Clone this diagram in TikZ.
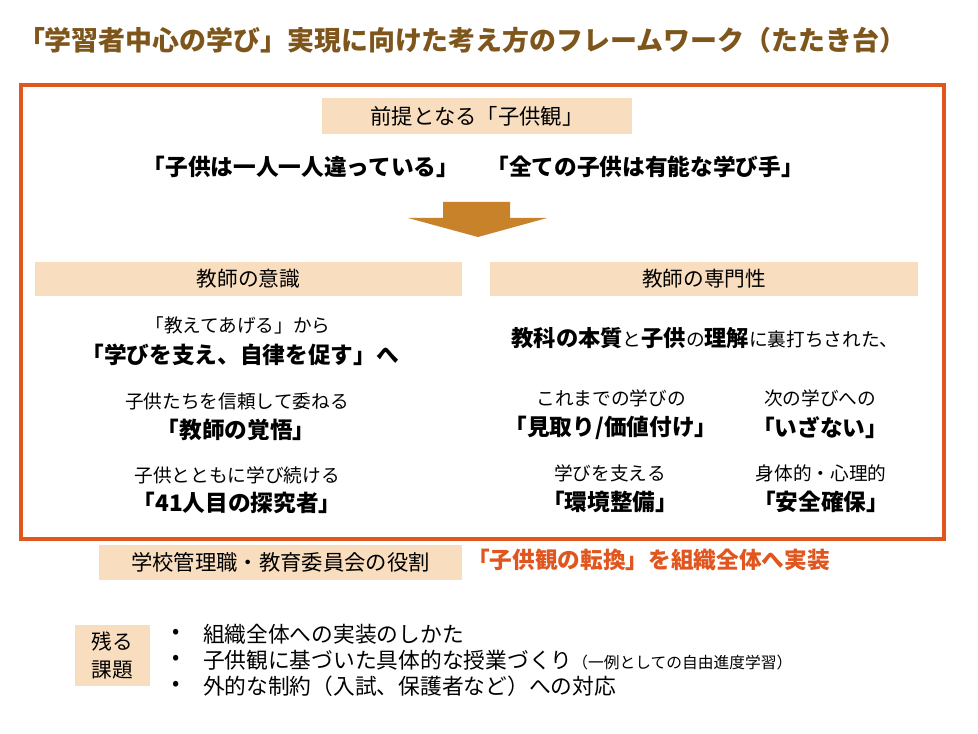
\documentclass[tikz,border=0pt]{standalone}
\usepackage{fontspec}
\setmainfont{Noto Sans CJK JP}
\definecolor{titlebrown}{HTML}{7E561C}
\definecolor{frameorange}{HTML}{E0561E}
\definecolor{peach}{HTML}{F9DDBF}
\definecolor{arrowgold}{HTML}{C8832A}
\begin{document}
\begin{tikzpicture}[x=0.75pt,y=-0.75pt,
  every node/.style={inner sep=0pt, outer sep=0pt},
  peachbox/.style={fill=peach, draw=none, font=\fontsize{15.5}{18}\selectfont},
  boldtxt/.style={font=\bfseries\fontsize{17}{20}\selectfont},
  smalltxt/.style={font=\fontsize{14}{16}\selectfont},
  bullettxt/.style={font=\fontsize{16.3}{19}\selectfont, anchor=west},
  bulletdot/.style={font=\fontsize{16}{19}\selectfont}]
\useasboundingbox (0,0) rectangle (978,734);
\fill[white] (0,0) rectangle (978,734);
% title
\node[anchor=west, text=titlebrown, font=\bfseries\fontsize{20.2}{24}\selectfont] (title) at (18,40)
  {「学習者中心の学び」実現に向けた考え方のフレームワーク（たたき台）};
% frame
\draw[frameorange, line width=3pt] (21,85) rectangle (944,539);
% premise
\node[peachbox, minimum width=232.5pt, minimum height=27pt, font=\fontsize{16}{19}\selectfont] (premise) at (477,116) {前提となる「子供観」};
\node[boldtxt] (v1) at (301,167) {「子供は一人一人違っている」};
\node[boldtxt] (v2) at (645,167) {「全ての子供は有能な学び手」};
% arrow
\fill[arrowgold] (443,202) -- (510,202) -- (510,218) -- (547,218) -- (478,237) -- (408,218) -- (443,218) -- cycle;
% headers
\node[peachbox, minimum width=320.25pt, minimum height=25.5pt] (hl) at (248.5,279) {教師の意識};
\node[peachbox, minimum width=321pt, minimum height=25.5pt] (hr) at (704,279) {教師の専門性};
% left column
\node[smalltxt] (l1) at (238,325) {「教えてあげる」から};
\node[boldtxt] (l2) at (240,355) {「学びを支え、自律を促す」へ};
\node[smalltxt] (l3) at (237,401) {子供たちを信頼して委ねる};
\node[boldtxt] (l4) at (236,430) {「教師の覚悟」};
\node[smalltxt] (l5) at (237,475) {子供とともに学び続ける};
\node[boldtxt] (l6) at (237,503) {「41人目の探究者」};
% right column
\node[font=\fontsize{14}{16}\selectfont] (r0) at (705,338)
  {{\bfseries\fontsize{16.7}{19}\selectfont 教科の本質}と{\bfseries\fontsize{16.7}{19}\selectfont 子供}の{\bfseries\fontsize{16.7}{19}\selectfont 理解}に裏打ちされた、};
\node[smalltxt] (r1) at (611,398) {これまでの学びの};
\node[boldtxt] (r2) at (611,428) {「見取り/価値付け」};
\node[smalltxt] (r3) at (820,398) {次の学びへの};
\node[boldtxt] (r4) at (820,428) {「いざない」};
\node[smalltxt] (r5) at (610,473) {学びを支える};
\node[boldtxt] (r6) at (610,502) {「環境整備」};
\node[smalltxt] (r7) at (821,473) {身体的・心理的};
\node[boldtxt] (r8) at (821,502) {「安全確保」};
% bottom
\node[peachbox, minimum width=272pt, minimum height=26pt, font=\fontsize{16}{19}\selectfont] (role) at (280.5,562.5) {学校管理職・教育委員会の役割};
\node[anchor=west, text=frameorange, font=\bfseries\fontsize{17}{20}\selectfont] (impl) at (467,560) {「子供観の転換」を組織全体へ実装};
\node[peachbox, minimum width=56.25pt, minimum height=45.75pt, align=center, font=\fontsize{15.5}{20.5}\selectfont] (kadai) at (112.5,655.5) {残る\\課題};
\node[bulletdot] (b1) at (176,634) {•};
\node[bulletdot] (b2) at (176,660) {•};
\node[bulletdot] (b3) at (176,686) {•};
\node[bullettxt] (t1) at (203,634) {組織全体への実装のしかた};
\node[bullettxt] (t2) at (203,660) {子供観に基づいた具体的な授業づくり{\fontsize{11.8}{13}\selectfont （一例としての自由進度学習）}};
\node[bullettxt] (t3) at (203,686) {外的な制約（入試、保護者など）への対応};
\end{tikzpicture}
\end{document}
